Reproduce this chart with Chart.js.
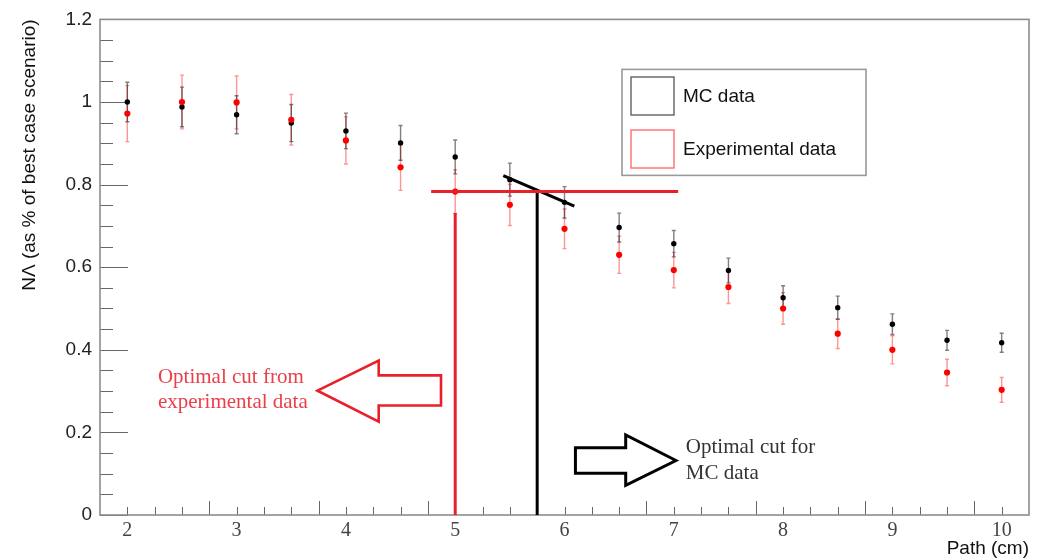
<!DOCTYPE html>
<html>
<head>
<meta charset="utf-8">
<script src="https://cdn.jsdelivr.net/npm/chart.js@4.4.1/dist/chart.umd.min.js"></script>
<style>
html,body{margin:0;padding:0;background:#fff;}
#wrap{width:1038px;height:560px;position:relative;}
</style>
</head>
<body>
<div id="wrap"><canvas id="c" width="1038" height="560"></canvas></div>
<script>
// ---------------- data ----------------
const paths     = [2, 2.5, 3, 3.5, 4, 4.5, 5, 5.5, 6, 6.5, 7, 7.5, 8, 8.5, 9, 9.5, 10];
const mcValues  = [1.000, 0.988, 0.969, 0.949, 0.930, 0.901, 0.867, 0.812, 0.757, 0.696, 0.657, 0.592, 0.526, 0.502, 0.462, 0.423, 0.417];
const mcErrors  = [0.048, 0.048, 0.046, 0.045, 0.043, 0.042, 0.041, 0.040, 0.038, 0.035, 0.032, 0.030, 0.029, 0.028, 0.025, 0.024, 0.023];
const expValues = [0.972, 1.000, 0.999, 0.957, 0.907, 0.842, 0.783, 0.751, 0.693, 0.630, 0.593, 0.552, 0.500, 0.439, 0.400, 0.345, 0.303];
const expErrors = [0.068, 0.065, 0.064, 0.061, 0.057, 0.056, 0.053, 0.050, 0.048, 0.045, 0.043, 0.040, 0.038, 0.036, 0.034, 0.032, 0.030];

const xTickValues = [2, 3, 4, 5, 6, 7, 8, 9, 10];
const xTickLabels = ['2', '3', '4', '5', '6', '7', '8', '9', '10'];
const yTickLabels = ['0', '0.2', '0.4', '0.6', '0.8', '1', '1.2'];

const seriesLabels = ['MC data', 'Experimental data'];

// annotation anchors (data units)
const cutLevel   = 0.783;
const expCut     = 5.0;
const mcCut      = 5.75;
const expCutSpan = [4.78, 7.04];
const expCutTop  = 0.731;
const mcSlashX   = [5.44, 6.09];
const mcSlashY   = [0.822, 0.748];
const expArrowX  = [3.74, 4.30, 4.87];      // tip, head base, shaft end
const expArrowY  = [0.301, 0.374, 0.338, 0.265, 0.226]; // tip, head top, shaft top, shaft bottom, head bottom
const mcArrowX   = [7.02, 6.56, 6.10];
const mcArrowY   = [0.132, 0.194, 0.163, 0.101, 0.072];
const expNote    = ['Optimal cut from', 'experimental data'];
const expNoteX   = 2.28, expNoteY = [0.333, 0.272];
const mcNote     = ['Optimal cut for', 'MC data'];
const mcNoteX    = 7.11, mcNoteY = [0.163, 0.101];

// ---------------- helpers ----------------
const pts = (xs, ys) => xs.map((x, i) => ({x: x, y: ys[i]}));
const SANS = '"Liberation Sans", Arial, Helvetica, sans-serif';
const SERIF = '"Liberation Serif", "Times New Roman", serif';
const RED_LINE = 'rgb(232,32,42)';

// ---------------- plugins ----------------
const frameTicks = {
  id: 'frameTicks',
  beforeDatasetsDraw(chart) {
    const {ctx, chartArea: a, scales: {x, y}} = chart;
    ctx.save();
    ctx.strokeStyle = '#666';
    ctx.lineWidth = 1;
    ctx.beginPath();
    for (let k = 0; k <= 24; k++) {
      const py = Math.round(y.getPixelForValue(k * 0.05)) + 0.5;
      const len = (k % 4 === 0) ? 28 : 13;
      ctx.moveTo(a.left, py); ctx.lineTo(a.left + len, py);
    }
    for (let k = 0; k <= 32; k++) {
      const px = Math.round(x.getPixelForValue(2 + k * 0.25)) + 0.5;
      const len = (k % 4 === 3) ? 14 : 8;
      ctx.moveTo(px, a.bottom); ctx.lineTo(px, a.bottom - len);
    }
    ctx.stroke();
    ctx.strokeStyle = '#8c8c8c';
    ctx.lineWidth = 1.6;
    ctx.strokeRect(a.left, a.top, a.right - a.left, a.bottom - a.top);
    ctx.restore();
  }
};

const errorBars = {
  id: 'errorBars',
  beforeDatasetsDraw(chart) {
    const {ctx, scales: {x, y}} = chart;
    chart.data.datasets.forEach(ds => {
      if (!ds.errors) return;
      ctx.save();
      ctx.strokeStyle = ds.errorColor;
      ctx.lineWidth = 1.4;
      ds.data.forEach((p, i) => {
        const px = x.getPixelForValue(p.x);
        const t = y.getPixelForValue(p.y + ds.errors[i]);
        const b = y.getPixelForValue(p.y - ds.errors[i]);
        ctx.beginPath();
        ctx.moveTo(px, t); ctx.lineTo(px, b);
        ctx.moveTo(px - 2, t); ctx.lineTo(px + 2, t);
        ctx.moveTo(px - 2, b); ctx.lineTo(px + 2, b);
        ctx.stroke();
      });
      ctx.restore();
    });
  }
};

function drawArrow(ctx, x, y, ax, ay, color, lw) {
  const X = v => x.getPixelForValue(v), Y = v => y.getPixelForValue(v);
  ctx.save();
  ctx.strokeStyle = color;
  ctx.lineWidth = lw;
  ctx.lineJoin = 'miter';
  ctx.beginPath();
  ctx.moveTo(X(ax[0]), Y(ay[0]));
  ctx.lineTo(X(ax[1]), Y(ay[1]));
  ctx.lineTo(X(ax[1]), Y(ay[2]));
  ctx.lineTo(X(ax[2]), Y(ay[2]));
  ctx.lineTo(X(ax[2]), Y(ay[3]));
  ctx.lineTo(X(ax[1]), Y(ay[3]));
  ctx.lineTo(X(ax[1]), Y(ay[4]));
  ctx.closePath();
  ctx.stroke();
  ctx.restore();
}

const annotations = {
  id: 'annotations',
  afterDatasetsDraw(chart) {
    const {ctx, scales: {x, y}} = chart;
    drawArrow(ctx, x, y, expArrowX, expArrowY, RED_LINE, 2.6);
    drawArrow(ctx, x, y, mcArrowX, mcArrowY, '#000', 3);
    ctx.save();
    ctx.font = '21px ' + SERIF;
    ctx.textBaseline = 'middle';
    ctx.textAlign = 'left';
    ctx.fillStyle = 'rgb(236,62,72)';
    expNote.forEach((t, i) => ctx.fillText(t, x.getPixelForValue(expNoteX), y.getPixelForValue(expNoteY[i])));
    ctx.fillStyle = '#333';
    mcNote.forEach((t, i) => ctx.fillText(t, x.getPixelForValue(mcNoteX), y.getPixelForValue(mcNoteY[i])));
    ctx.restore();
  }
};

const boxLegend = {
  id: 'boxLegend',
  afterDraw(chart) {
    const {ctx, chartArea: a} = chart;
    const bx = a.left + 522, by = a.top + 50, bw = 244, bh = 106;
    ctx.save();
    ctx.fillStyle = '#fff';
    ctx.fillRect(bx, by, bw, bh);
    ctx.strokeStyle = '#999';
    ctx.lineWidth = 1.6;
    ctx.strokeRect(bx, by, bw, bh);
    const items = seriesLabels.map(l => chart.data.datasets.find(d => d.inLegend && d.label === l));
    items.forEach((d, i) => {
      const sy = by + 7.6 + i * 53;
      ctx.strokeStyle = d.legendBox;
      ctx.lineWidth = 1.3;
      ctx.strokeRect(bx + 9, sy, 43, 38);
      ctx.fillStyle = '#111';
      ctx.font = '19px ' + SANS;
      ctx.textBaseline = 'middle';
      ctx.textAlign = 'left';
      ctx.fillText(d.label, bx + 61, sy + 19.5);
    });
    ctx.restore();
  }
};

// ---------------- chart ----------------
const lineDs = (label, data, color) => ({
  type: 'line', label: label, data: data, showLine: true,
  borderColor: color, borderWidth: 3, pointRadius: 0, fill: false, order: 0
});

new Chart(document.getElementById('c'), {
  type: 'scatter',
  data: {
    datasets: [
      lineDs('exp cut level', pts(expCutSpan, [cutLevel, cutLevel]), RED_LINE),
      lineDs('exp cut', pts([expCut, expCut], [expCutTop, 0]), RED_LINE),
      lineDs('mc cut', pts([mcCut, mcCut], [cutLevel, 0]), '#000'),
      lineDs('mc slope', pts(mcSlashX, mcSlashY), '#000'),
      {
        label: seriesLabels[1], data: pts(paths, expValues), errors: expErrors,
        errorColor: 'rgba(255,0,0,0.42)', legendBox: 'rgba(255,70,70,0.85)', inLegend: true,
        backgroundColor: '#ff0000', borderColor: '#ff0000', pointRadius: 3.1, borderWidth: 0, order: 1
      },
      {
        label: seriesLabels[0], data: pts(paths, mcValues), errors: mcErrors,
        errorColor: 'rgba(0,0,0,0.5)', legendBox: '#555', inLegend: true,
        backgroundColor: '#000', borderColor: '#000', pointRadius: 2.7, borderWidth: 0, order: 2
      }
    ]
  },
  options: {
    responsive: false,
    animation: false,
    devicePixelRatio: 1,
    layout: {padding: {top: 16, right: 9, bottom: 0, left: 0}},
    plugins: {legend: {display: false}, tooltip: {enabled: false}},
    scales: {
      x: {
        type: 'linear', min: 1.75, max: 10.25,
        grid: {display: false, drawTicks: false},
        border: {display: false},
        afterFit: s => { s.height = 45; },
        ticks: {
          stepSize: 0.25, autoSkip: false, maxRotation: 0, minRotation: 0, padding: 4,
          color: '#444', font: {family: SERIF, size: 20},
          callback: v => {
            const i = xTickValues.findIndex(t => Math.abs(t - v) < 1e-6);
            return i >= 0 ? xTickLabels[i] : '';
          }
        },
        title: {
          display: true, text: 'Path (cm)', align: 'end', color: '#111',
          font: {family: SANS, size: 19}, padding: {top: 0, bottom: 0}
        }
      },
      y: {
        type: 'linear', min: 0, max: 1.2,
        grid: {display: false, drawTicks: false},
        border: {display: false},
        afterFit: s => { s.width = 100; },
        ticks: {
          stepSize: 0.2, padding: 8, color: '#222', font: {family: SANS, size: 19},
          callback: (v, i) => yTickLabels[i]
        },
        title: {
          display: true, text: 'NΛ (as % of best case scenario)', align: 'end', color: '#111',
          font: {family: SANS, size: 19}, padding: {top: 18, bottom: 0}
        }
      }
    }
  },
  plugins: [frameTicks, errorBars, annotations, boxLegend]
});
</script>
</body>
</html>
